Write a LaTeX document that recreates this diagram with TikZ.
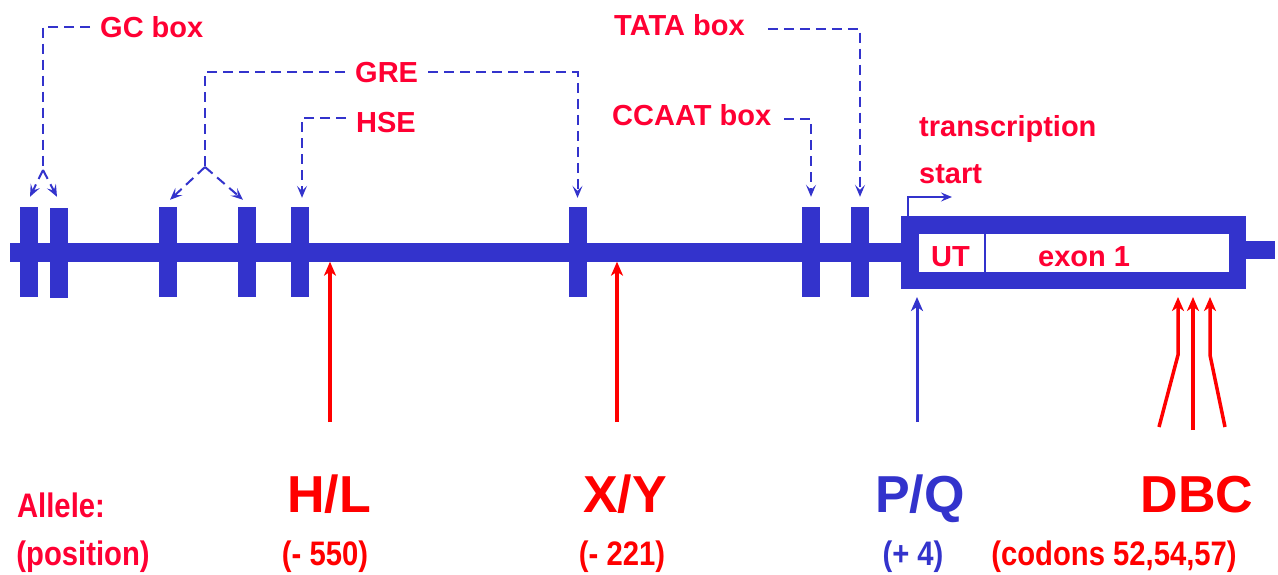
\documentclass[tikz,border=0pt]{standalone}
\usepackage{fontspec}
\setmainfont{Liberation Sans}
\usepackage{graphicx}
\usetikzlibrary{arrows.meta,calc}
\definecolor{dblue}{RGB}{51,51,204}
\definecolor{lred}{RGB}{255,0,51}
\definecolor{ared}{RGB}{255,0,0}
\begin{document}
\begin{tikzpicture}[x=1pt,y=-1pt,
  block/.style={fill=dblue,draw=none,minimum width=18pt,minimum height=90pt,inner sep=0pt},
  bar/.style={fill=dblue,draw=none,inner sep=0pt},
  lbl/.style={text=lred,font=\bfseries\fontsize{29}{34}\selectfont,inner xsep=10pt,inner ysep=0pt,anchor=base west},
  dconn/.style={draw=dblue,line width=2pt,dash pattern=on 10pt off 6pt},
  dtip/.style={dconn,-{Stealth[length=12pt,width=10pt,inset=5pt]}},
  big/.style={font=\bfseries\fontsize{52}{60}\selectfont,anchor=base,inner sep=0pt},
  small/.style={font=\bfseries\fontsize{34}{40}\selectfont,anchor=base,inner sep=0pt},
  redarrow/.style={draw=ared,line width=3.5pt,-{Stealth[length=14pt,width=12pt,inset=4pt]}},
  bluearrow/.style={draw=dblue,line width=3pt,-{Stealth[length=14pt,width=12pt,inset=4pt]}},
]
\useasboundingbox (0,0) rectangle (1278,574);

% DNA line
\node[bar,minimum width=891pt,minimum height=19pt] (dna) at (455.5,252) {};
\node[bar,minimum width=29pt,minimum height=18pt] (tail) at (1260.5,250) {};

% regulatory boxes
\node[block] (b1) at (29,252) {};
\node[block] (b2) at (59,253) {};
\node[block] (b3) at (168,252) {};
\node[block] (b4) at (247,252) {};
\node[block] (b5) at (299.5,252) {};
\node[block] (b6) at (577.5,252) {};
\node[block] (b7) at (811,252) {};
\node[block] (b8) at (860,252) {};

% exon box
\node[draw=dblue,fill=white,line width=17.5pt,outer sep=8.75pt,minimum width=327.5pt,minimum height=55.5pt,inner sep=0pt] (exon) at (1073.5,252.5) {};
\draw[dblue,line width=1.8pt] (985,233) -- (985,272);
\node[lbl,inner xsep=0pt] (ut) at (931,266) {UT};
\node[lbl,inner xsep=0pt] (ex1) at (1038,266) {exon 1};

% labels
\node[lbl] (gc) at (90,37) {GC box};
\node[lbl] (gre) at (345,82) {GRE};
\node[lbl] (hse) at (346,132) {HSE};
\node[lbl] (ccaat) at (602,125) {CCAAT box};
\node[lbl] (tata) at (604,35) {TATA box};
\node[lbl,inner xsep=0pt] (ts1) at (919,136) {transcription};
\node[lbl,inner xsep=0pt] (ts2) at (919,183) {start};

% dashed connectors
\draw[dconn] (gc.west) -| (43,170) coordinate (gcs);
\draw[dtip] (gcs) -- ([xshift=1pt,yshift=10pt]b1.north);
\draw[dtip] (gcs) -- ([xshift=-2pt,yshift=11pt]b2.north);

\draw[dconn] (gre.west) -| (205,167) coordinate (gres);
\draw[dtip] (gres) -- ([xshift=2pt,yshift=7pt]b3.north);
\draw[dtip] (gres) -- ([xshift=-4pt,yshift=7pt]b4.north);
\draw[dtip] (gre.east) -| ([yshift=9pt]b6.north);

\draw[dtip] ([yshift=4pt]hse.west) -| ([xshift=2.5pt,yshift=9pt]b5.north);
\draw[dtip] ([xshift=3pt,yshift=-4.5pt]ccaat.east) -| ([yshift=10pt]b7.north);
\draw[dtip] ([xshift=13pt,yshift=-4pt]tata.east) -| ([yshift=10pt]b8.north);

% transcription start arrow
\draw[dblue,line width=1.8pt,-{Stealth[length=11pt,width=9pt,inset=4pt]}] ([xshift=7pt]exon.north west) |- ++(44,-19);

% mutation arrows
\coordinate (hlt) at (330,422);
\coordinate (xyt) at (617,422);
\coordinate (pqt) at (917,422);
\coordinate (d1) at (1159,427);
\coordinate (d2) at (1193,430);
\coordinate (d3) at (1225,427);
\draw[redarrow] (hlt) -- (hlt |- dna.south);
\draw[redarrow] (xyt) -- (xyt |- dna.south);
\draw[bluearrow] (pqt) -- ($(pqt |- exon.south)+(0,8)$);
\draw[redarrow] (d1) -- (1178,355) -- (1178,297);
\draw[redarrow] (d2) -- (1193,297);
\draw[redarrow] (d3) -- (1210,355) -- (1210,297);

% bottom labels
\node[big,text=ared] (hl) at (329,512) {H/L};
\node[big,text=ared] (xy) at (625,512) {X/Y};
\node[big,text=dblue] (pq) at (920,512) {P/Q};
\node[big,text=ared] (dbc) at (1197,512) {DBC};
\node[small,text=lred] (allele) at (61,517) {\scalebox{0.86}[1]{Allele:}};
\node[small,text=lred] (pos) at (83,565) {\scalebox{0.86}[1]{(position)}};
\node[small,text=ared] (p1) at (325,565) {\scalebox{0.86}[1]{(- 550)}};
\node[small,text=ared] (p2) at (622,565) {\scalebox{0.86}[1]{(- 221)}};
\node[small,text=dblue] (p3) at (913,565) {\scalebox{0.86}[1]{(+ 4)}};
\node[small,text=ared] (p4) at (1114,565) {\scalebox{0.86}[1]{(codons 52,54,57)}};
\end{tikzpicture}
\end{document}
